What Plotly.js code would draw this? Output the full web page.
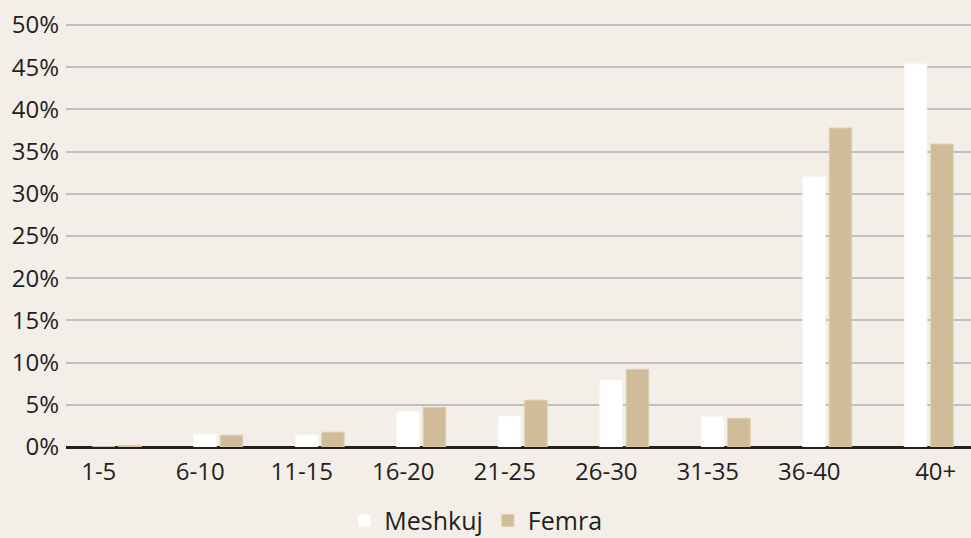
<!DOCTYPE html>
<html>
<head>
<meta charset="utf-8">
<script src="https://cdn.plot.ly/plotly-3.0.1.min.js"></script>
<style>
  html, body { margin: 0; padding: 0; background: #f3efe8; }
  #plot { width: 971px; height: 538px; }
</style>
</head>
<body>
<div id="plot"></div>
<script>
let ageGroups = ['1-5', '6-10', '11-15', '16-20', '21-25', '26-30', '31-35', '36-40', '40+'];
let meshkuj = [0.0, 1.5, 1.4, 4.2, 3.65, 7.9, 3.6, 32.0, 45.4];
let femra = [0.2, 1.4, 1.75, 4.7, 5.55, 9.2, 3.4, 37.8, 35.9];
let yTicks = [0, 5, 10, 15, 20, 25, 30, 35, 40, 45, 50];
let yTickText = yTicks.map(v => v + '%');

// the last label sits further right in the original, pad it a bit
let xTickText = ageGroups.map((g, i) => i === ageGroups.length - 1 ? '\u00a0'.repeat(8) + g : g);

let meshkujTrace = {
    x: ageGroups,
    y: meshkuj,
    name: 'Meshkuj',
    type: 'bar',
    marker: { color: '#ffffff', line: { color: '#fbf8f3', width: 1 } }
};

let femraTrace = {
    x: ageGroups,
    y: femra,
    name: 'Femra',
    type: 'bar',
    marker: { color: '#d0bc99', line: { color: '#dccdb1', width: 1 } }
};

let data = [meshkujTrace, femraTrace];

let layout = {
    width: 971,
    height: 538,
    paper_bgcolor: '#f3efe8',
    plot_bgcolor: '#f3efe8',
    font: { family: 'Open Sans, sans-serif', size: 24, color: '#231f20' },
    barmode: 'group',
    bargap: 0.48,
    bargroupgap: 0.15,
    showlegend: true,
    legend: {
        orientation: 'h',
        xref: 'container',
        yref: 'container',
        x: 0.49,
        xanchor: 'center',
        y: 0.032,
        yanchor: 'middle',
        font: { size: 25 },
        bgcolor: 'rgba(0,0,0,0)'
    },
    xaxis: {
        type: 'category',
        range: [-0.5, 8.416],
        tickvals: ageGroups,
        ticktext: xTickText,
        showgrid: false,
        showline: false,
        zeroline: false,
        ticks: '',
        ticklabelshift: -18,
        ticklabelstandoff: 8,
        automargin: false,
        fixedrange: true
    },
    yaxis: {
        range: [0, 50.36],
        tickvals: yTicks,
        ticktext: yTickText,
        showgrid: true,
        gridcolor: '#c0bfbf',
        gridwidth: 2,
        zeroline: true,
        zerolinecolor: '#231f20',
        zerolinewidth: 3,
        ticks: '',
        ticklabelstandoff: 6,
        automargin: false,
        fixedrange: true
    },
    margin: {
        l: 66,
        r: 0,
        b: 91,
        t: 22,
        pad: 0
    }
};

Plotly.newPlot('plot', data, layout, { displayModeBar: false, staticPlot: true });
</script>
</body>
</html>
